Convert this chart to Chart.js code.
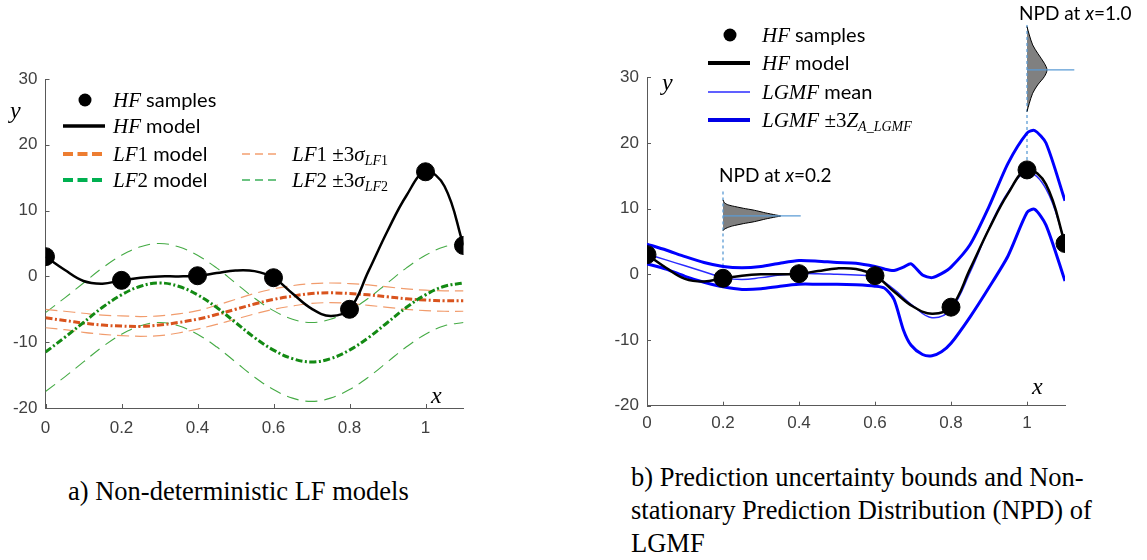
<!DOCTYPE html>
<html>
<head>
<meta charset="utf-8">
<script src="https://cdn.jsdelivr.net/npm/chart.js@4.4.0/dist/chart.umd.min.js"></script>
<style>
  body { margin: 0; background: #fff; width: 1147px; height: 560px; position: relative; overflow: hidden; }
  .panel { position: absolute; top: 0; height: 440px; }
  #leftPanel { left: 0; width: 560px; }
  #rightPanel { left: 580px; width: 567px; }
  .caption { position: absolute; font-family: "Liberation Serif", "Times New Roman", serif; font-size: 26.5px; line-height: 33px; color: #000; white-space: nowrap; }
  #capA { left: 68px; top: 475px; }
  #capB { left: 631px; top: 461px; }
</style>
</head>
<body>
<div class="panel" id="leftPanel"><canvas id="lfChart" width="560" height="440"></canvas></div>
<div class="panel" id="rightPanel"><canvas id="lgmfChart" width="567" height="440"></canvas></div>
<div class="caption" id="capA">a) Non-deterministic LF models</div>
<div class="caption" id="capB">b) Prediction uncertainty bounds and Non-<br>stationary Prediction Distribution (NPD) of<br>LGMF</div>

<script>
// ---- values ----
const xGrid = [0, 0.05, 0.1, 0.15, 0.2, 0.25, 0.3, 0.35, 0.4, 0.45, 0.5, 0.55,
               0.6, 0.65, 0.7, 0.75, 0.8, 0.85, 0.9, 0.95, 1.0, 1.05, 1.1];
const xTicks = [0, 0.2, 0.4, 0.6, 0.8, 1];
const yTicks = [-20, -10, 0, 10, 20, 30];

const hfSampleX = [0, 0.2, 0.4, 0.6, 0.8, 1.0, 1.1];
const hfSampleY = [3.0, -0.6, 0.1, -0.2, -5.0, 15.9, 4.7];
const hfModel = [3.0, 1.0, -0.7, -1.1, -0.6, -0.2, 0.0, 0.0, 0.1, 0.5, 0.9, 0.8,
                 -0.2, -2.6, -4.9, -6.0, -5.0, 0.8, 6.9, 12.3, 15.9, 13.7, 4.7];

// left panel: LF models and their +-3 sigma bounds (on xGrid)
const lf1Model = [-6.3, -6.7, -7.1, -7.4, -7.55, -7.6, -7.4, -7.0, -6.5, -5.8, -5.0, -4.2,
                  -3.5, -3.0, -2.6, -2.5, -2.6, -2.8, -3.1, -3.4, -3.6, -3.7, -3.7];
const lf1Upper = [-5.0, -5.3, -5.6, -5.9, -6.0, -6.1, -6.0, -5.7, -5.2, -4.4, -3.5, -2.6,
                  -1.9, -1.4, -1.1, -1.0, -1.1, -1.3, -1.6, -1.9, -2.1, -2.2, -2.2];
const lf1Lower = [-7.8, -8.1, -8.5, -8.8, -9.0, -9.1, -9.0, -8.6, -8.0, -7.3, -6.5, -5.7,
                  -5.0, -4.5, -4.1, -4.0, -4.1, -4.4, -4.7, -5.0, -5.2, -5.3, -5.3];
const lf2Model = [-11.5, -9.3, -7.0, -4.7, -2.8, -1.5, -1.0, -1.5, -2.8, -4.7, -7.0, -9.3,
                  -11.2, -12.5, -13.0, -12.5, -11.2, -9.3, -7.0, -4.7, -2.8, -1.5, -1.0];
const lf2Upper = [-5.5, -3.3, -1.0, 1.3, 3.2, 4.5, 5.0, 4.5, 3.2, 1.3, -1.0, -3.3,
                  -5.2, -6.5, -7.0, -6.5, -5.2, -3.3, -1.0, 1.3, 3.2, 4.5, 5.0];
const lf2Lower = [-17.5, -15.3, -13.0, -10.7, -8.8, -7.5, -7.0, -7.5, -8.8, -10.7, -13.0, -15.3,
                  -17.2, -18.5, -19.0, -18.5, -17.2, -15.3, -13.0, -10.7, -8.8, -7.5, -7.0];

// right panel: LGMF mean (on xGrid) and bounds (on their own x)
const lgmfMean = [3.1, 2.2, 1.3, 0.4, -0.5, -0.8, -0.5, -0.1, 0.1, 0.1, 0.0, -0.1,
                  -0.4, -2.3, -4.8, -6.6, -5.3, 0.3, 7.0, 12.5, 15.5, 13.0, 5.0];
const bandX = [0, 0.05, 0.1, 0.15, 0.2, 0.25, 0.3, 0.35, 0.4, 0.45, 0.5, 0.55, 0.6, 0.625,
               0.65, 0.675, 0.695, 0.725, 0.75, 0.775, 0.8, 0.85, 0.9, 0.95, 1.0, 1.02, 1.05, 1.1];
const lgmfUpper = [4.6, 3.7, 2.7, 1.8, 1.2, 1.0, 1.2, 1.7, 2.1, 2.0, 1.8, 1.7, 1.2, 0.8,
                   0.6, 1.1, 1.6, -0.1, -0.5, 0.1, 1.1, 4.5, 10.3, 16.9, 21.5, 21.9, 20.0, 11.2];
const lgmfLower = [1.6, 0.8, -0.3, -1.2, -1.9, -2.3, -2.2, -1.8, -1.5, -1.5, -1.5, -1.6, -1.8, -2.1,
                   -3.8, -8.5, -10.8, -12.2, -12.4, -11.8, -10.5, -6.5, -2.0, 2.8, 9.4, 9.9, 7.5, -1.0];

// NPD insets: y positions and widths (in x units) from the baseline
const npd02Base = 0.2;
const npd02Y = [11.33, 10.92, 10.62, 10.41, 10.06, 9.76, 9.35, 9.04, 8.89, 8.74, 8.43, 8.02, 7.72, 7.36, 7.10, 6.87, 6.65];
const npd02W = [0, 0.0035, 0.0114, 0.0246, 0.0535, 0.0825, 0.1123, 0.1386, 0.152, 0.1386, 0.1123, 0.0825, 0.0535, 0.0246, 0.0114, 0.0035, 0];
const npd02Guide = [1.2, 12.6];   // dashed vertical extent
const npd02Mean = 8.89;
const npd02LineEnd = 0.4045;

const npd10Base = 1.0;
const npd10Y = [37.72, 36.45, 34.93, 33.66, 32.14, 31.12, 30.10, 28.84, 27.57, 26.05, 24.78];
const npd10W = [0, 0.0061, 0.0149, 0.0281, 0.0456, 0.0526, 0.0456, 0.0281, 0.0149, 0.0061, 0];
const npd10Guide = [16.5, 38.0];
const npd10Mean = 31.12;
const npd10LineEnd = 1.1245;

// ---- helpers ----
const MATH = 'italic 21px "Liberation Serif"';
const MATH_UP = '21px "Liberation Serif"';
const SUB_IT = 'italic 14px "Liberation Serif"';
const SUB_UP = '14px "Liberation Serif"';
const SANS = '20px Lato';

function pts(xs, ys) {
  return xs.map(function (x, i) { return { x: x, y: ys[i] }; });
}

function npdShape(base, ys, ws) {
  return ys.map(function (y, i) { return { x: base + ws[i], y: y }; });
}

function lineSet(data, color, width, dash, extra) {
  let ds = {
    data: data, showLine: true, borderColor: color, borderWidth: width,
    borderDash: dash || [], pointRadius: 0, tension: 0.4, fill: false
  };
  return Object.assign(ds, extra || {});
}

function drawRuns(ctx, runs, x, y) {
  ctx.textAlign = 'left';
  ctx.textBaseline = 'alphabetic';
  ctx.fillStyle = '#000';
  runs.forEach(function (r) {
    ctx.font = r[1];
    ctx.fillText(r[0], x, y + (r[2] || 0));
    x += ctx.measureText(r[0]).width;
  });
}

function legendLine(ctx, x1, x2, y, color, width, dash) {
  ctx.save();
  ctx.strokeStyle = color;
  ctx.lineWidth = width;
  ctx.setLineDash(dash || []);
  ctx.beginPath();
  ctx.moveTo(x1, y);
  ctx.lineTo(x2, y);
  ctx.stroke();
  ctx.restore();
}

function legendDot(ctx, x, y, r) {
  ctx.beginPath();
  ctx.arc(x, y, r, 0, Math.PI * 2);
  ctx.fillStyle = '#000';
  ctx.fill();
}

// inward tick marks, drawn through the scales
const innerTicks = {
  id: 'innerTicks',
  afterDraw: function (chart) {
    let ctx = chart.ctx, area = chart.chartArea;
    ctx.save();
    ctx.strokeStyle = '#595959';
    ctx.lineWidth = 1;
    ctx.beginPath();
    yTicks.forEach(function (v) {
      let py = Math.round(chart.scales.y.getPixelForValue(v)) + 0.5;
      ctx.moveTo(area.left, py);
      ctx.lineTo(area.left + 4, py);
    });
    xTicks.forEach(function (v) {
      let px = Math.round(chart.scales.x.getPixelForValue(v)) + 0.5;
      ctx.moveTo(px, area.bottom);
      ctx.lineTo(px, area.bottom - 4);
    });
    ctx.stroke();
    ctx.restore();
  }
};

function axisOptions(yWidth, xHeight, xPad) {
  let common = {
    type: 'linear',
    grid: { display: false, drawTicks: false },
    border: { display: true, color: '#595959', width: 1 },
    ticks: { color: '#404040', font: { family: '"Liberation Sans"', size: 17 } }
  };
  return {
    x: Object.assign({}, common, {
      min: 0, max: 1.1,
      afterBuildTicks: function (s) { s.ticks = xTicks.map(function (v) { return { value: v }; }); },
      afterFit: function (s) { s.height = xHeight; },
      ticks: Object.assign({}, common.ticks, { padding: xPad, maxRotation: 0, callback: function (v) { return String(v); } })
    }),
    y: Object.assign({}, common, {
      min: -20, max: 30,
      afterBuildTicks: function (s) { s.ticks = yTicks.map(function (v) { return { value: v }; }); },
      afterFit: function (s) { s.width = yWidth; },
      ticks: Object.assign({}, common.ticks, { padding: 8 })
    })
  };
}

// ---- left panel ----
const lfLegend = {
  id: 'lfLegend',
  afterDraw: function (chart) {
    let ctx = chart.ctx;
    ctx.save();
    legendDot(ctx, 85, 100, 6.5);
    drawRuns(ctx, [['HF', MATH], [' samples', SANS]], 113, 107);
    legendLine(ctx, 63, 105, 126, '#000', 3.5);
    drawRuns(ctx, [['HF', MATH], [' model', SANS]], 113, 133);
    legendLine(ctx, 63, 105, 154, '#ed7d31', 4, [10, 4.5]);
    drawRuns(ctx, [['LF', MATH], ['1', MATH_UP], [' model', SANS]], 113, 161);
    legendLine(ctx, 63, 105, 180, '#00b050', 4, [10, 4.5]);
    drawRuns(ctx, [['LF', MATH], ['2', MATH_UP], [' model', SANS]], 113, 187);
    legendLine(ctx, 242, 277, 154, '#f4a070', 1.5, [8, 5]);
    drawRuns(ctx, [['LF', MATH], ['1', MATH_UP], [' \u00b13', MATH_UP], ['\u03c3', MATH], ['LF', SUB_IT, 4], ['1', SUB_UP, 4]], 292, 161);
    legendLine(ctx, 242, 277, 180, '#3cb05a', 1.5, [8, 5]);
    drawRuns(ctx, [['LF', MATH], ['2', MATH_UP], [' \u00b13', MATH_UP], ['\u03c3', MATH], ['LF', SUB_IT, 4], ['2', SUB_UP, 4]], 292, 187);
    // axis names
    ctx.font = 'italic 24px "Liberation Serif"';
    ctx.fillText('y', 10, 118);
    ctx.fillText('x', 431, 403);
    ctx.restore();
  }
};

new Chart(document.getElementById('lfChart'), {
  type: 'scatter',
  data: {
    datasets: [
      { data: pts(hfSampleX, hfSampleY), backgroundColor: '#000', borderColor: '#000', pointRadius: 9, showLine: false },
      lineSet(pts(xGrid, hfModel), '#000', 2.5),
      lineSet(pts(xGrid, lf2Model), '#138a13', 3, [7, 2.5, 2, 2.5]),
      lineSet(pts(xGrid, lf1Model), '#d9541e', 3, [7, 2.5, 2, 2.5]),
      lineSet(pts(xGrid, lf1Upper), '#f19c6d', 1.2, [12, 6]),
      lineSet(pts(xGrid, lf1Lower), '#f19c6d', 1.2, [12, 6]),
      lineSet(pts(xGrid, lf2Upper), '#45ab45', 1.1, [12, 7]),
      lineSet(pts(xGrid, lf2Lower), '#45ab45', 1.1, [12, 7])
    ]
  },
  options: {
    responsive: false,
    animation: false,
    events: [],
    layout: { padding: { top: 79, right: 96.5, left: 0, bottom: 0 } },
    plugins: { legend: { display: false }, tooltip: { enabled: false } },
    scales: axisOptions(45.5, 32, 10)
  },
  plugins: [innerTicks, lfLegend]
});

// ---- right panel ----
const guideBlue = '#5b9bd5';
const NPD02_SHAPE = 6;   // dataset indexes of the two NPD outlines
const NPD10_SHAPE = 9;

// grey fill of the NPD outlines; the filler plugin clips to the chart area,
// so the shapes are filled here from the line elements themselves
const npdFill = {
  id: 'npdFill',
  beforeDatasetsDraw: function (chart) {
    let ctx = chart.ctx;
    ctx.save();
    ctx.fillStyle = '#808080';
    [NPD02_SHAPE, NPD10_SHAPE].forEach(function (i) {
      let line = chart.getDatasetMeta(i).dataset;
      line.updateControlPoints(chart.chartArea, 'x');
      ctx.beginPath();
      line.path(ctx);
      ctx.closePath();
      ctx.fill();
    });
    ctx.restore();
  }
};

const lgmfLegend = {
  id: 'lgmfLegend',
  afterDraw: function (chart) {
    let ctx = chart.ctx;
    ctx.save();
    legendDot(ctx, 150, 35, 6.5);
    drawRuns(ctx, [['HF', MATH], [' samples', SANS]], 182, 42);
    legendLine(ctx, 128, 170, 63, '#000', 4);
    drawRuns(ctx, [['HF', MATH], [' model', SANS]], 182, 70);
    legendLine(ctx, 128, 170, 92, '#2b2bff', 1.5);
    drawRuns(ctx, [['LGMF', MATH], [' mean', SANS]], 182, 99);
    legendLine(ctx, 128, 170, 120, '#0000e6', 4);
    drawRuns(ctx, [['LGMF', MATH], [' \u00b13', MATH_UP], ['Z', MATH], ['A_LGMF', SUB_IT, 4]], 182, 127);
    // NPD labels
    drawRuns(ctx, [['NPD at ', '19px Lato'], ['x', 'italic 19px Lato'], ['=0.2', '19px Lato']], 139, 182);
    drawRuns(ctx, [['NPD at ', '19px Lato'], ['x', 'italic 19px Lato'], ['=1.0', '19px Lato']], 439, 20);
    // axis names
    ctx.font = 'italic 24px "Liberation Serif"';
    ctx.fillText('y', 82, 90);
    ctx.fillText('x', 452, 394);
    ctx.restore();
  }
};

new Chart(document.getElementById('lgmfChart'), {
  type: 'scatter',
  data: {
    datasets: [
      { data: pts(hfSampleX, hfSampleY), backgroundColor: '#000', borderColor: '#000', pointRadius: 9, showLine: false },
      lineSet(pts(xGrid, hfModel), '#000', 2.5),
      lineSet(pts(xGrid, lgmfMean), '#2b2bff', 1.5),
      lineSet(pts(bandX, lgmfUpper), '#0000ff', 3, [], { tension: 0.25 }),
      lineSet(pts(bandX, lgmfLower), '#0000ff', 3, [], { tension: 0.25 }),
      // NPD at x=0.2
      lineSet(pts([npd02Base, npd02LineEnd], [npd02Mean, npd02Mean]), guideBlue, 1.3, [], { tension: 0 }),
      lineSet(npdShape(npd02Base, npd02Y, npd02W), '#000', 1, [], { tension: 0.2, capBezierPoints: false }),
      lineSet(pts([npd02Base, npd02Base], npd02Guide), guideBlue, 1.3, [3, 3], { tension: 0 }),
      // NPD at x=1.0 (drawn above the axes)
      lineSet(pts([npd10Base, npd10LineEnd], [npd10Mean, npd10Mean]), guideBlue, 1.3, [], { tension: 0, clip: false }),
      lineSet(npdShape(npd10Base, npd10Y, npd10W), '#000', 1, [], { tension: 0.3, clip: false, capBezierPoints: false }),
      lineSet(pts([npd10Base, npd10Base], npd10Guide), guideBlue, 1.3, [3, 3], { tension: 0, clip: false })
    ]
  },
  options: {
    responsive: false,
    animation: false,
    events: [],
    layout: { padding: { top: 77.3, right: 82, left: 0, bottom: 0 } },
    plugins: { legend: { display: false }, tooltip: { enabled: false } },
    scales: axisOptions(67, 34.3, 7)
  },
  plugins: [innerTicks, npdFill, lgmfLegend]
});
</script>
</body>
</html>
